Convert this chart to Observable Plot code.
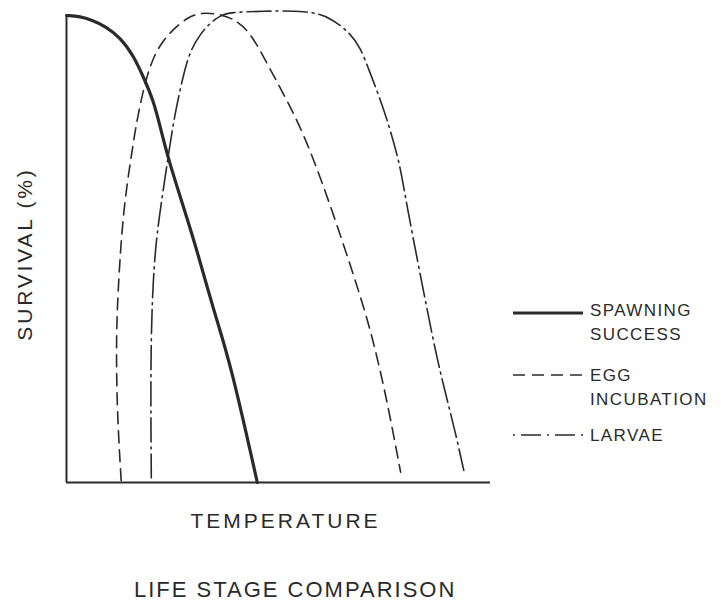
<!DOCTYPE html>
<html>
<head>
<meta charset="utf-8">
<script src="https://cdn.jsdelivr.net/npm/d3@7"></script>
<script src="https://cdn.jsdelivr.net/npm/@observablehq/plot@0.6"></script>
<style>
  html, body { margin: 0; padding: 0; background: #fff; }
  #wrap { position: relative; width: 721px; height: 606px; font-family: "Liberation Sans", Arial, sans-serif; color: #2a2a2a; }
  #chart svg { display: block; }
  .lg { position: absolute; font-size: 17px; letter-spacing: 1.4px; line-height: 24px; color: #2a2a2a; }
  .sw { position: absolute; }
  #title { position: absolute; left: 134px; top: 579px; font-size: 22px; line-height: 22px; letter-spacing: 2px; white-space: nowrap; }
</style>
</head>
<body>
<div id="wrap">
  <div id="chart"></div>
  <div id="legend"></div>
  <div id="title"></div>
</div>
<script>
// Temperature (relative 0-100) and survival (%)
const spawnT = [0, 3.3, 6.0, 9.0, 12.7, 15.8, 18.2, 20.5, 22.2, 24.1, 27.1, 30.8, 34.7, 38.7, 45.0];
const spawnS = [100, 99.8, 99.0, 97.8, 95.3, 91.4, 86.7, 81.8, 75.8, 69.0, 60.4, 49.7, 36.8, 25.5, 0];

const eggT = [12.9, 12.0, 11.7, 12.0, 13.3, 15.5, 16.3, 17.9, 19.8, 22.2, 24.9, 28.5, 31.6, 35.5, 39.4, 43.4, 47.3, 51.2, 56.0, 61.9, 69.7, 72.5, 75.6, 78.8];
const eggS = [0.4, 13.9, 28.3, 39.0, 58.2, 71.1, 76.0, 83.3, 89.7, 94.0, 96.8, 99.6, 100.6, 100.4, 99.4, 96.4, 89.7, 83.2, 74.7, 60.4, 39.0, 29.8, 17.6, 2.2];

const larvT = [20.0, 19.8, 20.4, 21.4, 22.9, 24.9, 26.1, 27.7, 29.2, 31.6, 34.0, 36.3, 38.7, 45.8, 56.8, 62.3, 67.0, 69.3, 71.7, 74.1, 76.4, 78.8, 80.0, 85.4, 87.4, 89.6, 91.7, 93.7];
const larvS = [1.0, 26.8, 43.9, 54.0, 63.2, 75.4, 81.2, 87.8, 92.5, 96.1, 98.5, 100.0, 100.7, 100.9, 101.1, 99.6, 96.1, 93.2, 87.5, 81.8, 75.4, 67.5, 60.4, 35.4, 26.5, 18.3, 10.8, 2.6];

const seriesNames = ["SPAWNING\nSUCCESS", "EGG\nINCUBATION", "LARVAE"];
const xLabel = "TEMPERATURE";
const yLabel = "SURVIVAL (%)";
const titleText = "LIFE STAGE COMPARISON";

const toRows = (T, S) => T.map((t, i) => ({t, s: S[i]}));
const spawn = toRows(spawnT, spawnS);
const egg = toRows(eggT, eggS);
const larv = toRows(larvT, larvS);

const ink = "#2a2a2a";
const dashEgg = "12,7";
const dashLarv = "24,5,2,5";

const chart = Plot.plot({
  width: 721,
  height: 570,
  marginLeft: 66,
  marginRight: 231,
  marginTop: 15,
  marginBottom: 88,
  x: {domain: [0, 100], axis: null},
  y: {domain: [0, 100], axis: null},
  style: {fontFamily: "Liberation Sans, Arial, sans-serif", color: ink, background: "white"},
  marks: [
    Plot.ruleX([0], {y1: 0, y2: 100, stroke: ink, strokeWidth: 2}),
    Plot.ruleY([0], {x1: 0, x2: 100, stroke: ink, strokeWidth: 2}),
    Plot.line(egg, {x: "t", y: "s", curve: "basis", stroke: ink, strokeWidth: 1.6, strokeDasharray: dashEgg}),
    Plot.line(larv, {x: "t", y: "s", curve: "basis", stroke: ink, strokeWidth: 1.6, strokeDasharray: dashLarv}),
    Plot.line(spawn, {x: "t", y: "s", curve: "basis", stroke: ink, strokeWidth: 3.2}),
    Plot.text([xLabel], {frameAnchor: "bottom", textAnchor: "middle", dx: 7, dy: 39, fontSize: 21, fill: ink, lineAnchor: "middle"}),
    Plot.text([yLabel], {frameAnchor: "left", textAnchor: "middle", dx: -41, dy: 5, rotate: -90, fontSize: 21, fill: ink, lineAnchor: "middle"})
  ]
});
chart.querySelectorAll("text").forEach(t => { t.setAttribute("letter-spacing", t.textContent === xLabel ? "3" : "2.8"); });
document.getElementById("chart").appendChild(chart);

// Legend
const legend = document.getElementById("legend");
const swatch = (top, dash, width) => {
  const ns = "http://www.w3.org/2000/svg";
  const s = document.createElementNS(ns, "svg");
  s.setAttribute("width", 72); s.setAttribute("height", 10);
  s.setAttribute("class", "sw");
  s.style.left = "513px"; s.style.top = (top - 5) + "px";
  const l = document.createElementNS(ns, "line");
  l.setAttribute("x1", 0); l.setAttribute("x2", 70); l.setAttribute("y1", 5); l.setAttribute("y2", 5);
  l.setAttribute("stroke", ink); l.setAttribute("stroke-width", width);
  if (dash) l.setAttribute("stroke-dasharray", dash);
  s.appendChild(l);
  legend.appendChild(s);
};
const label = (top, text) => {
  const d = document.createElement("div");
  d.className = "lg";
  d.style.left = "590px"; d.style.top = top + "px";
  d.innerHTML = text.split("\n").join("<br>");
  legend.appendChild(d);
};
swatch(313, null, 3.2);
label(299, seriesNames[0]);
swatch(375, "12,7", 1.6);
label(364, seriesNames[1]);
swatch(435, "2,6,20,6", 1.6);
label(424, seriesNames[2]);

document.getElementById("title").textContent = titleText;
</script>
</body>
</html>
